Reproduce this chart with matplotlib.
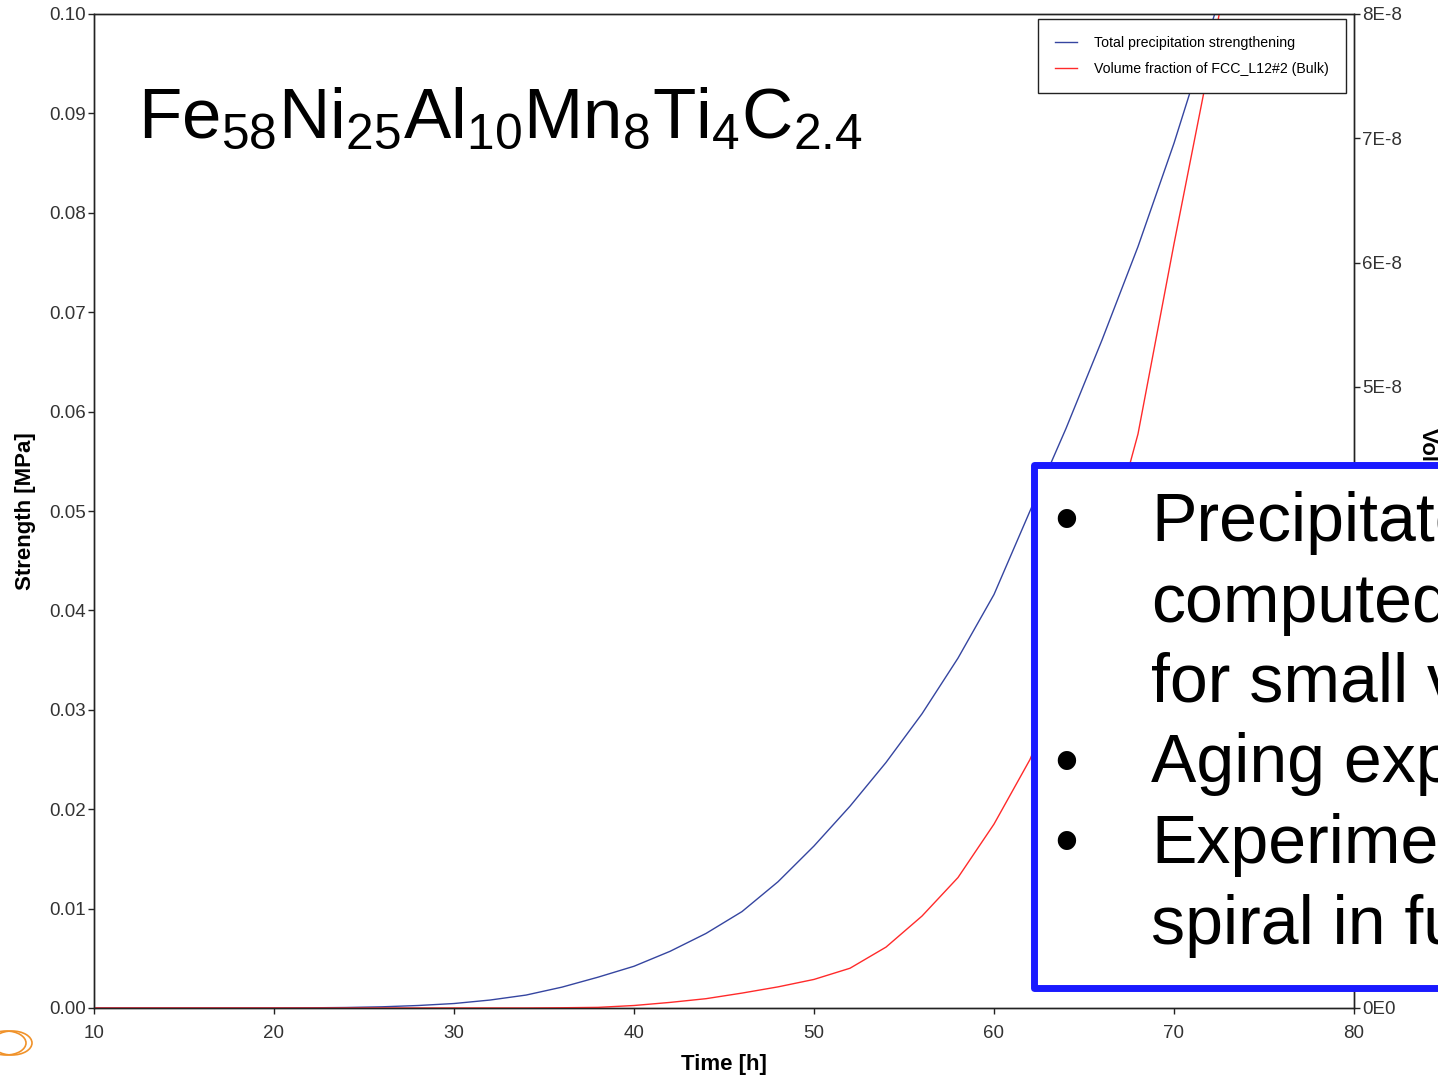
import matplotlib
matplotlib.use("Agg")
import matplotlib.pyplot as plt
from matplotlib.patches import Rectangle, Ellipse
from matplotlib.ticker import FixedLocator, FuncFormatter
import numpy as np

plt.rcParams['font.family'] = ['Liberation Sans', 'DejaVu Sans']
plt.rcParams['mathtext.fontset'] = 'custom'
plt.rcParams['mathtext.rm'] = 'Liberation Sans'
plt.rcParams['mathtext.it'] = 'Liberation Sans:italic'
plt.rcParams['mathtext.bf'] = 'Liberation Sans:bold'

# time [h]
time_h = [10, 20, 22, 24, 26, 28, 30, 32, 34, 36, 38, 40, 42, 44, 46, 48,
          50, 52, 54, 56, 58, 60, 62, 64, 66, 68, 70, 72, 74]
# total precipitation strengthening [MPa]
strength = [0.0, 0.0, 0.00002, 0.00005, 0.00012, 0.00025, 0.00045, 0.0008,
            0.0013, 0.0021, 0.0031, 0.0042, 0.0057, 0.0075, 0.0097, 0.0127,
            0.0163, 0.0203, 0.0247, 0.0296, 0.0352, 0.0416, 0.0500, 0.0583,
            0.0672, 0.0766, 0.0870, 0.0985, 0.1100]
# volume fraction of FCC_L12#2 (bulk), in units of 1E-8
vol_frac = [0.0, 0.0, 0.0, 0.0, 0.0, 0.0, 0.0, 0.0, 0.0, 0.002, 0.005, 0.02,
            0.045, 0.075, 0.12, 0.17, 0.23, 0.32, 0.49, 0.74, 1.05, 1.48,
            2.0, 2.7, 3.55, 4.62, 6.15, 7.62, 9.1]

x_ticks = [10, 20, 30, 40, 50, 60, 70, 80]
y_ticks = [0.00, 0.01, 0.02, 0.03, 0.04, 0.05, 0.06, 0.07, 0.08, 0.09, 0.10]
y2_ticks = [0, 1, 2, 3, 4, 5, 6, 7, 8]

formula = r"$\mathrm{Fe_{58}Ni_{25}Al_{10}Mn_{8}Ti_{4}C_{2.4}}$"
bullet_lines = [("\u2022", "Precipitate"), ("", "computed"), ("", "for small v"),
                ("\u2022", "Aging exp"), ("\u2022", "Experime"), ("", "spiral in fu")]

W, H = 1438, 1079
fig = plt.figure(figsize=(W / 100, H / 100), dpi=100)
ax = fig.add_axes([94 / W, 71 / H, 1260 / W, 994 / H])
ax2 = ax.twinx()

blue = '#3545a0'
red = '#ff2a2a'
l1, = ax.plot(time_h, strength, color=blue, lw=1.0)
l2, = ax2.plot(time_h, vol_frac, color=red, lw=1.0)

ax.set_xlim(10, 80)
ax.set_ylim(0, 0.10)
ax2.set_ylim(0, 8)

ax.xaxis.set_major_locator(FixedLocator(x_ticks))
ax.yaxis.set_major_locator(FixedLocator(y_ticks))
ax2.yaxis.set_major_locator(FixedLocator(y2_ticks))
ax.yaxis.set_major_formatter(FuncFormatter(lambda v, p: f"{v:.2f}"))
ax2.yaxis.set_major_formatter(FuncFormatter(lambda v, p: "0E0" if v == 0 else f"{int(round(v))}E-8"))

for a in (ax, ax2):
    for s in a.spines.values():
        s.set_color('#222222')
        s.set_linewidth(1.0)
    a.tick_params(direction='out', length=4, width=1, colors='#222222',
                  labelcolor='#333333', labelsize=13.5, pad=2)
ax.tick_params(axis='x', pad=8)

ax.set_xlabel("Time [h]", fontsize=16, fontweight='bold', labelpad=9)
ax.set_ylabel("Strength [MPa]", fontsize=16, fontweight='bold', labelpad=9)
ax2.set_ylabel("Volume fraction", fontsize=16, fontweight='bold',
               rotation=270, labelpad=26)

leg = ax2.legend([l1, l2], ["Total precipitation strengthening",
                            "Volume fraction of FCC_L12#2 (Bulk)"],
                 loc='upper right', bbox_to_anchor=(1252 / 1260, 989 / 994),
                 borderaxespad=0, fontsize=10.2, fancybox=False, framealpha=1,
                 edgecolor='#222222', borderpad=1.2, labelspacing=0.85,
                 handlelength=1.6, handletextpad=1.2)
leg.get_frame().set_linewidth(1.0)

fig.text(138 / W, 1 - 138 / H, formula, fontsize=51, ha='left', va='baseline')

# blue framed text box on top
box = Rectangle((1033.5 / W, 1 - 987.5 / H), 500 / W, 523 / H,
                transform=fig.transFigure, facecolor='white', edgecolor='#1a1aff',
                linewidth=5, joinstyle='round', zorder=10)
fig.patches.append(box)
base = 541
for i, (b, txt) in enumerate(bullet_lines):
    y = 1 - (base + i * 80.5) / H
    if b:
        fig.text(1066 / W, y, b, fontsize=49, ha='center', va='baseline', zorder=11)
    fig.text(1151 / W, y, txt, fontsize=49, ha='left', va='baseline', zorder=11)

# partial orange logo in the bottom-left corner
for dx in (0, 6):
    fig.patches.append(Ellipse(((6 + dx) / W, 1 - 1043 / H), 40 / W, 24 / H,
                               transform=fig.transFigure, fill=False,
                               edgecolor='#f0922a', linewidth=1.2, zorder=10))

fig.savefig("out.png", dpi=100)
